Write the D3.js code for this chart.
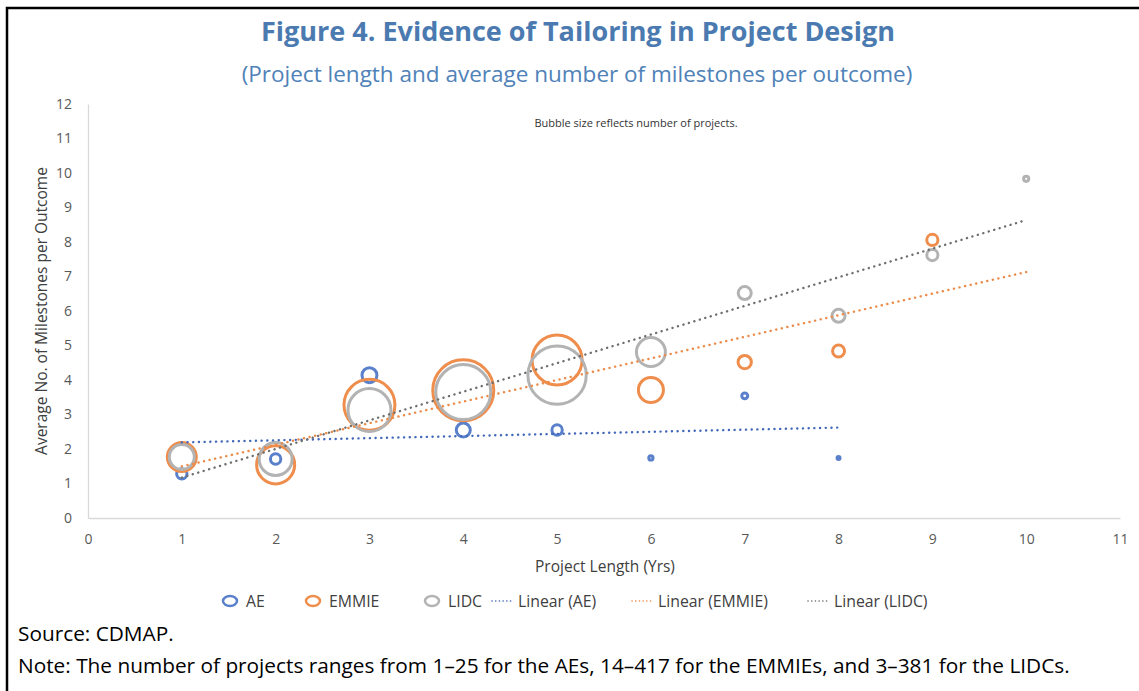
<!DOCTYPE html>
<html>
<head>
<meta charset="utf-8">
<script src="https://cdn.jsdelivr.net/npm/d3@7"></script>
<style>
  html, body { margin: 0; padding: 0; background: #fff; }
  svg { display: block; font-family: "Open Sans", "Noto Sans", sans-serif; }
</style>
</head>
<body>
<script>
// project length (years) per series
const aeYears    = [1, 2, 3, 4, 5, 6, 7, 8];
const emmieYears = [1, 2, 3, 4, 5, 6, 7, 8, 9];
const lidcYears  = [1, 2, 3, 4, 5, 6, 7, 8, 9, 10];

// average milestones per outcome
const aeMilestones    = [1.28, 1.71, 4.14, 2.55, 2.55, 1.74, 3.54, 1.74];
const emmieMilestones = [1.77, 1.54, 3.28, 3.70, 4.58, 3.71, 4.52, 4.84, 8.06];
const lidcMilestones  = [1.77, 1.71, 3.13, 3.65, 4.14, 4.81, 6.52, 5.86, 7.62, 9.83];

// number of projects (bubble size)
const aeProjects    = [12, 12, 25, 22, 12, 2, 4, 1];
const emmieProjects = [94, 162, 291, 417, 280, 70, 20, 16, 14];
const lidcProjects  = [70, 122, 207, 339, 381, 94, 19, 19, 14, 3];

// trendline forward forecast (years)
const trendForward = [0, 1, 0];

const xTicks = d3.range(0, 12);
const yTicks = d3.range(0, 13);

const W = 1139, H = 691;
const svg = d3.select('body').append('svg').attr('width', W).attr('height', H);

// outer frame (left and top edges only are visible)
svg.append('path')
    .attr('d', `M7,${H} L7,8 L${W},8`)
    .attr('fill', 'none')
    .attr('stroke', '#000')
    .attr('stroke-width', 2.5);

const x = d3.scaleLinear().domain([0, 11]).range([88, 1120]);
const y = d3.scaleLinear().domain([0, 12]).range([518, 104]);
const r = d3.scaleSqrt().domain([0, 417]).range([0, 30.5]);

// titles
svg.append('text')
    .attr('x', 578).attr('y', 41)
    .attr('text-anchor', 'middle')
    .attr('font-size', 27).attr('font-weight', 700)
    .attr('fill', '#4a7ab0')
    .text('Figure 4. Evidence of Tailoring in Project Design');

svg.append('text')
    .attr('x', 577).attr('y', 82)
    .attr('text-anchor', 'middle')
    .attr('font-size', 22.5)
    .attr('fill', '#4f82b8')
    .text('(Project length and average number of milestones per outcome)');

// axes
const gx = svg.append('g').attr('transform', `translate(0,${y(0)})`)
    .call(d3.axisBottom(x).tickValues(xTicks).tickSize(0).tickPadding(16));
const gy = svg.append('g').attr('transform', `translate(${x(0)},0)`)
    .call(d3.axisLeft(y).tickValues(yTicks).tickSize(0).tickPadding(16));

[gx, gy].forEach(g => {
    g.select('.domain').attr('stroke', '#d9d9d9').attr('stroke-width', 1.3);
    g.selectAll('text').attr('font-size', 14).attr('fill', '#595959')
        .attr('font-family', '"Open Sans", sans-serif');
});

svg.append('text')
    .attr('x', 605).attr('y', 572)
    .attr('text-anchor', 'middle')
    .attr('font-size', 15.5).attr('fill', '#404040')
    .text('Project Length (Yrs)');

svg.append('text')
    .attr('transform', 'translate(47,311) rotate(-90)')
    .attr('text-anchor', 'middle')
    .attr('font-size', 15.5).attr('fill', '#404040')
    .text('Average No. of Milestones per Outcome');

svg.append('text')
    .attr('x', 636).attr('y', 127)
    .attr('text-anchor', 'middle')
    .attr('font-size', 11).attr('fill', '#333')
    .text('Bubble size reflects number of projects.');

// series
const series = [
    { name: 'AE', xs: aeYears, ys: aeMilestones, ns: aeProjects, color: '#5a80cc', trend: '#4067b8' },
    { name: 'EMMIE', xs: emmieYears, ys: emmieMilestones, ns: emmieProjects, color: '#ee8d4c', trend: '#ec8a48' },
    { name: 'LIDC', xs: lidcYears, ys: lidcMilestones, ns: lidcProjects, color: '#b3b3b3', trend: '#6e6e6e' }
];
series.forEach((s, i) => {
    s.points = s.xs.map((v, j) => ({ x: v, y: s.ys[j], n: s.ns[j] }));
    s.forward = trendForward[i];
});

const bubbles = svg.append('g');
series.forEach(s => {
    bubbles.append('g')
        .selectAll('circle')
        .data(s.points.slice().sort((a, b) => b.n - a.n))
        .join('circle')
        .attr('cx', d => x(d.x))
        .attr('cy', d => y(d.y))
        .attr('r', d => r(d.n))
        .attr('fill', 'none')
        .attr('stroke', s.color)
        .attr('stroke-width', 3);
});

// least-squares trendlines
function linearFit(pts) {
    const mx = d3.mean(pts, d => d.x), my = d3.mean(pts, d => d.y);
    const sxy = d3.sum(pts, d => (d.x - mx) * (d.y - my));
    const sxx = d3.sum(pts, d => (d.x - mx) ** 2);
    const b = sxy / sxx;
    return v => my + b * (v - mx);
}

const trends = svg.append('g');
series.forEach(s => {
    const f = linearFit(s.points);
    const x0 = d3.min(s.xs), x1 = d3.max(s.xs) + s.forward;
    trends.append('line')
        .attr('x1', x(x0)).attr('y1', y(f(x0)))
        .attr('x2', x(x1)).attr('y2', y(f(x1)))
        .attr('stroke', s.trend)
        .attr('stroke-width', 2.4)
        .attr('stroke-linecap', 'round')
        .attr('stroke-dasharray', '0.1,5.6');
});

// legend
const legend = svg.append('g').attr('transform', 'translate(0,601)');
const legendItems = [
    { label: 'AE', s: series[0], type: 'bubble', x: 230 },
    { label: 'EMMIE', s: series[1], type: 'bubble', x: 313 },
    { label: 'LIDC', s: series[2], type: 'bubble', x: 432 },
    { label: 'Linear (AE)', s: series[0], type: 'trend', x: 502 },
    { label: 'Linear (EMMIE)', s: series[1], type: 'trend', x: 642 },
    { label: 'Linear (LIDC)', s: series[2], type: 'trend', x: 818 }
];
legendItems.forEach(it => {
    const g = legend.append('g').attr('transform', `translate(${it.x},0)`);
    if (it.type === 'bubble') {
        g.append('ellipse').attr('rx', 7).attr('ry', 5)
            .attr('fill', 'none').attr('stroke', it.s.color).attr('stroke-width', 2.5);
    } else {
        g.append('line').attr('x1', -10).attr('x2', 10)
            .attr('stroke', it.s.trend).attr('stroke-width', 1.6)
            .attr('stroke-linecap', 'round').attr('stroke-dasharray', '0.1,3.6');
    }
    g.append('text').attr('x', 16).attr('y', 5.5)
        .attr('font-size', 15.8).attr('fill', '#404040').text(it.label);
});

// footnotes
svg.append('text')
    .attr('x', 18).attr('y', 641)
    .attr('font-size', 20.8).attr('fill', '#000')
    .text('Source: CDMAP.');
svg.append('text')
    .attr('x', 18).attr('y', 673)
    .attr('font-size', 20.8).attr('fill', '#000')
    .text('Note: The number of projects ranges from 1–25 for the AEs, 14–417 for the EMMIEs, and 3–381 for the LIDCs.');
</script>
</body>
</html>
